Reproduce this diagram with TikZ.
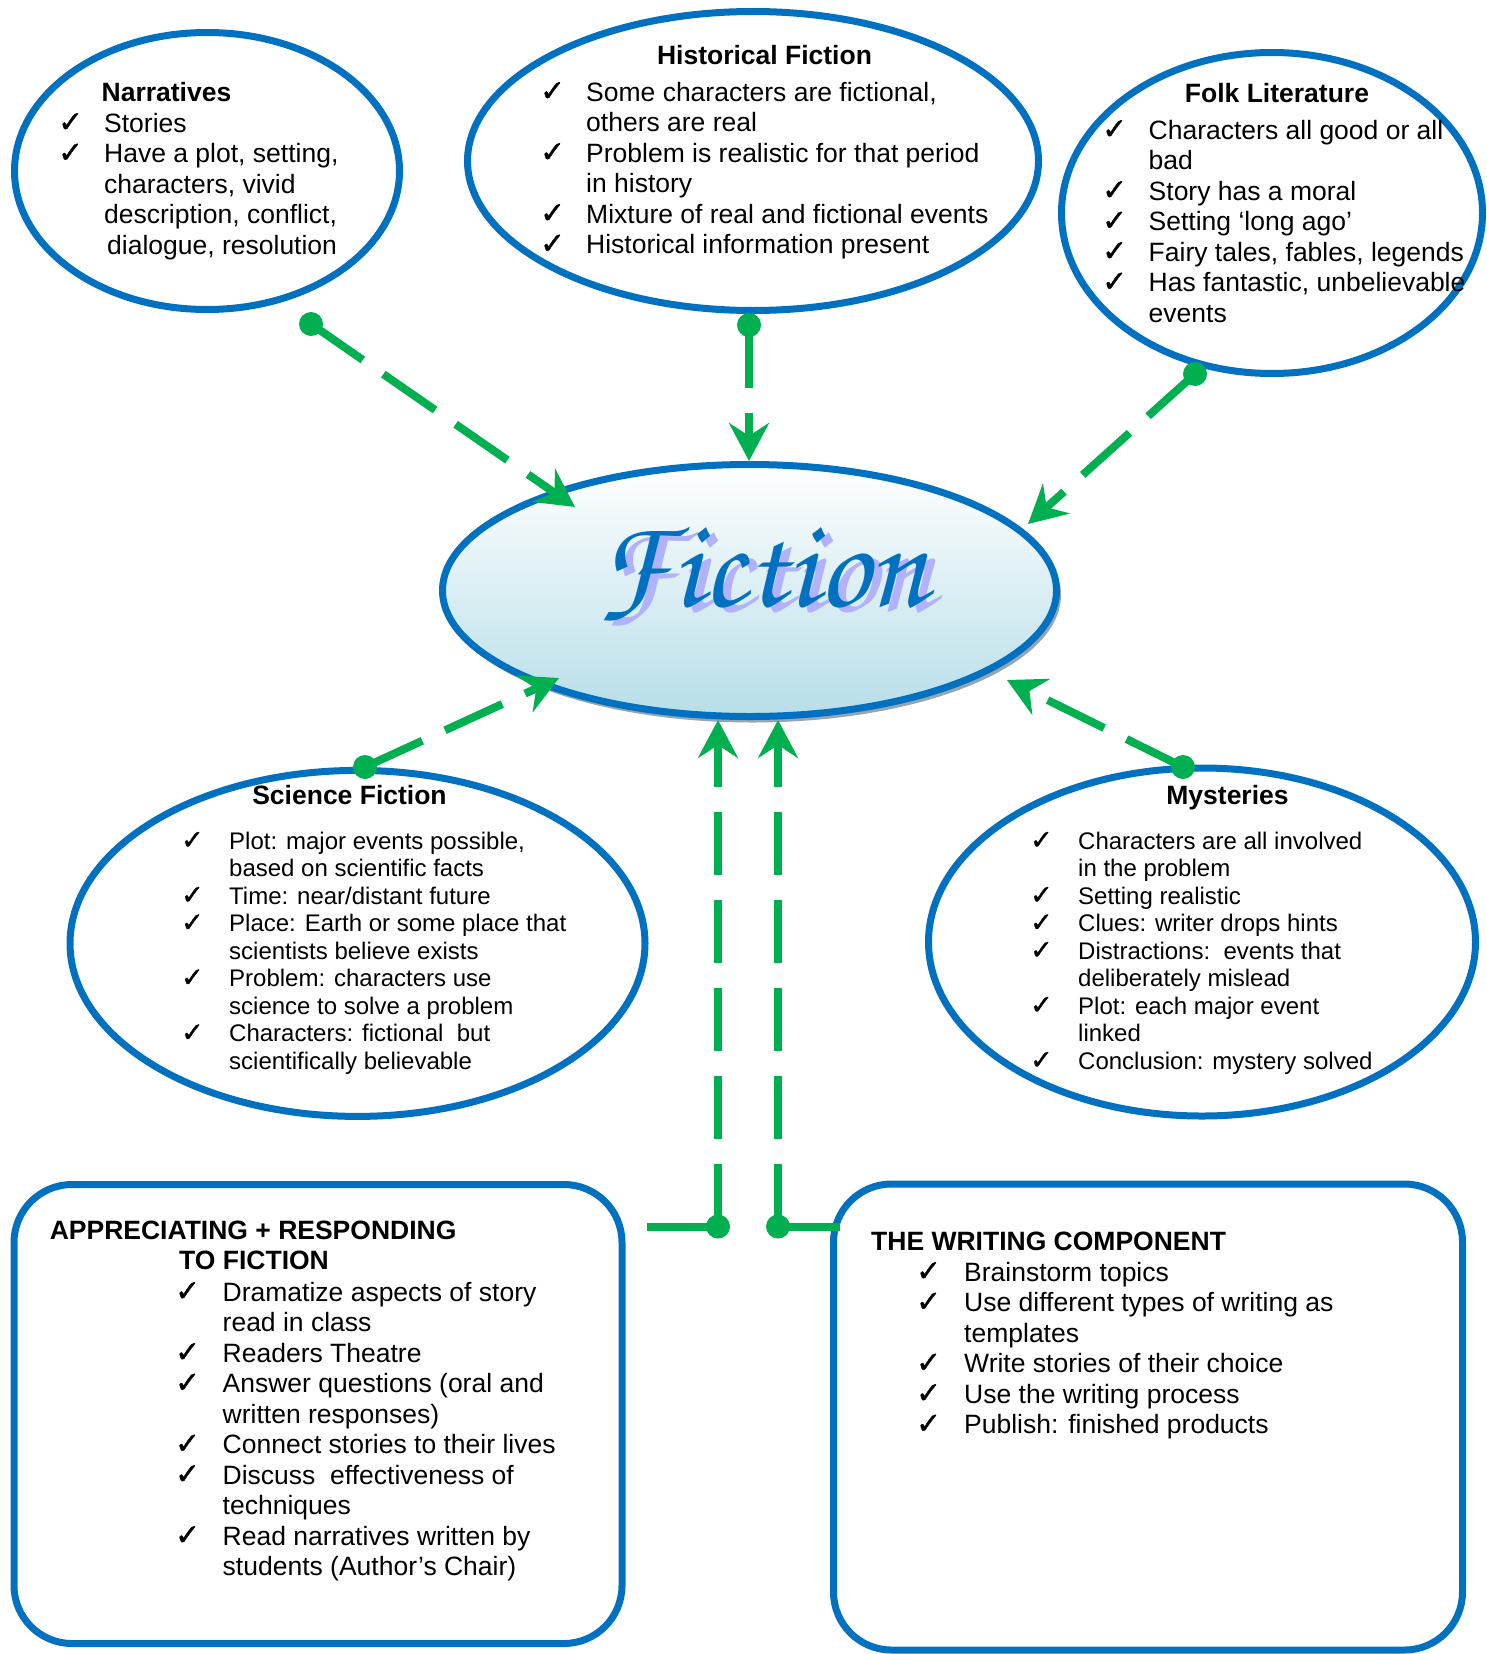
\documentclass[tikz,border=0pt]{standalone}
\usepackage[T1,TU]{fontenc}
\usepackage{fontspec}
\setmainfont{Liberation Sans}
\newfontfamily\ckfont{DejaVu Sans}[Scale=1.12,FakeBold=1.2]
\usetikzlibrary{arrows.meta,shapes.geometric}

\definecolor{bblue}{RGB}{0,112,192}
\definecolor{fgreen}{RGB}{0,176,80}
\definecolor{aqua}{RGB}{183,222,232}
\definecolor{lav}{RGB}{178,178,252}
\definecolor{shade}{RGB}{150,165,175}

\newlength\ckw
\newcommand\ck{\makebox[\ckw][l]{\ckfont ✓}}
\newcommand\ind{\hspace*{\ckw}}
\newcommand\blk[3]{\begin{minipage}[t]{#1}\setlength\ckw{#2}#3\end{minipage}}
\newcommand\bodyfont{\fontsize{26.5}{30.5}\selectfont}
\newcommand\smallbody{\fontsize{24}{27.5}\selectfont}
\newcommand\fictfont{\fontencoding{T1}\fontfamily{pzc}\fontseries{mb}\fontshape{it}\fontsize{128}{128}\selectfont}

\begin{document}
\begin{tikzpicture}[x=1pt,y=-1pt,
  bubble/.style={ellipse, draw=bblue, line width=7pt, inner sep=0pt, outer sep=0pt},
  panel/.style={rectangle, rounded corners=58pt, draw=bblue, line width=7pt, inner sep=0pt},
  dot/.style={circle, fill=fgreen, minimum size=24pt, inner sep=0pt},
  flow/.style={draw=fgreen, line width=8pt, dash pattern=on 63pt off 25pt,
    -{Stealth[length=38pt,width=40pt,inset=13pt]}},
  stub/.style={draw=fgreen, line width=8pt},
  head/.style={font=\bfseries\bodyfont, inner sep=0pt},
  body/.style={inner sep=0pt, anchor=base west},
]
\useasboundingbox (0,0) rectangle (1487,1654);

% ---- outer bubbles and panels
\node[bubble, minimum width=385pt, minimum height=277pt] (narr) at (207,171) {};
\node[bubble, minimum width=571pt, minimum height=299pt] (hist) at (753,161) {};
\node[bubble, minimum width=421pt, minimum height=321pt] (folk) at (1272,213) {};
\node[bubble, minimum width=575pt, minimum height=346pt] (scifi) at (357.5,943.4) {};
\node[bubble, minimum width=547pt, minimum height=348pt] (myst) at (1202,942) {};
\node[panel, minimum width=608pt, minimum height=459pt] (resp) at (318,1414) {};
\node[panel, minimum width=629pt, minimum height=466pt] (write) at (1148,1417) {};

% ---- central bubble
\node[ellipse, draw=shade, fill=shade, line width=3pt, minimum width=614pt, minimum height=252pt,
      inner sep=0pt] (fictshadow) at (752.5,595) {};
\node[ellipse, draw=bblue, line width=7pt, top color=white, bottom color=aqua,
      minimum width=614pt, minimum height=252pt, inner sep=0pt] (fiction) at (749.5,590.5) {};
\node[inner sep=0pt, anchor=base, text=lav, font=\fictfont] (wordshadow) at (770,611) {Fiction};
\node[inner sep=0pt, anchor=base, text=bblue, font=\fictfont] (word) at (762,606) {Fiction};

% ---- titles
\node[head, anchor=base] (narrhead) at (166.5,101) {Narratives};
\node[head, anchor=base] (histhead) at (764.5,65) {Historical Fiction};
\node[head, anchor=base] (folkhead) at (1277,102) {Folk Literature};
\node[head, anchor=base] (scihead) at (349.5,804.5) {Science Fiction};
\node[head, anchor=base] (mysthead) at (1227.5,804) {Mysteries};
\node[head, anchor=base west] (resphead) at (49.6,1239) {APPRECIATING + RESPONDING};
\node[head, anchor=base west] (resphead2) at (179,1269.5) {TO FICTION};
\node[head, anchor=base west] (writehead) at (871,1250) {THE WRITING COMPONENT};

% ---- lists
\node[body, font=\bodyfont] (narrtext) at (58,132) {\blk{360pt}{46pt}{%
\ck Stories\\
\ck Have a plot, setting,\\
\ind characters, vivid\\
\ind description, conflict,\\
\hspace*{\dimexpr\ckw+3pt}dialogue, resolution}};

\node[body, font=\bodyfont] (histtext) at (540,101) {\blk{480pt}{46pt}{%
\ck Some characters are fictional,\\
\ind others are real\\
\ck Problem is realistic for that period\\
\ind in history\\
\ck Mixture of real and fictional events\\
\ck Historical information present}};

\node[body, font=\bodyfont] (folktext) at (1102,139) {\blk{400pt}{46.5pt}{%
\ck Characters all good or all\\
\ind bad\\
\ck Story has a moral\\
\ck Setting ‘long ago’\\
\ck Fairy tales, fables, legends\\
\ck Has fantastic, unbelievable\\
\ind events}};

\node[body, font=\smallbody] (scitext) at (181,849) {\blk{420pt}{48pt}{%
\ck Plot: major events possible,\\
\ind based on scientific facts\\
\ck Time: near/distant future\\
\ck Place: Earth or some place that\\
\ind scientists believe exists\\
\ck Problem: characters use\\
\ind science to solve a problem\\
\ck Characters: fictional\ \ but\\
\ind scientifically believable}};

\node[body, font=\smallbody] (mysttext) at (1030,849) {\blk{420pt}{48pt}{%
\ck Characters are all involved\\
\ind in the problem\\
\ck Setting realistic\\
\ck Clues: writer drops hints\\
\ck Distractions:\ \ events that\\
\ind deliberately mislead\\
\ck Plot: each major event\\
\ind linked\\
\ck Conclusion: mystery solved}};

\node[body, font=\bodyfont] (resptext) at (175,1301) {\blk{420pt}{47.5pt}{%
\ck Dramatize aspects of story\\
\ind read in class\\
\ck Readers Theatre\\
\ck Answer questions (oral and\\
\ind written responses)\\
\ck Connect stories to their lives\\
\ck Discuss\ \ effectiveness of\\
\ind techniques\\
\ck Read narratives written by\\
\ind students (Author’s Chair)}};

\node[body, font=\bodyfont] (writetext) at (916,1281) {\blk{520pt}{48pt}{%
\ck Brainstorm topics\\
\ck Use different types of writing as\\
\ind templates\\
\ck Write stories of their choice\\
\ck Use the writing process\\
\ck Publish: finished products}};

% ---- connectors into the central bubble
\node[dot] (d1) at (311,324) {};
\coordinate (t1) at (575,507);
\draw[flow] (d1.center) -- (t1);

\node[dot] (d2) at (749,325) {};
\coordinate (t2) at (749,461);
\draw[flow] (d2.center) -- (t2);

\node[dot] (d3) at (1195,374) {};
\coordinate (t3) at (1028,524);
\draw[flow] (d3.center) -- (t3);

\node[dot] (d4) at (365,767) {};
\coordinate (t4) at (559,678);
\draw[flow] (d4.center) -- (t4);

\node[dot] (d5) at (1183,767) {};
\coordinate (t5) at (1007,680);
\draw[flow] (d5.center) -- (t5);

\node[dot] (d6) at (718,1226.5) {};
\coordinate (s6) at (647,1226.5);
\coordinate (t6) at (718,720);
\draw[stub] (s6) -- (d6.center);
\draw[flow] (d6.center) -- (t6);

\node[dot] (d7) at (778,1226.5) {};
\coordinate (s7) at (840,1226.5);
\coordinate (t7) at (778,720);
\draw[stub] (d7.center) -- (s7);
\draw[flow] (d7.center) -- (t7);
\end{tikzpicture}
\end{document}
